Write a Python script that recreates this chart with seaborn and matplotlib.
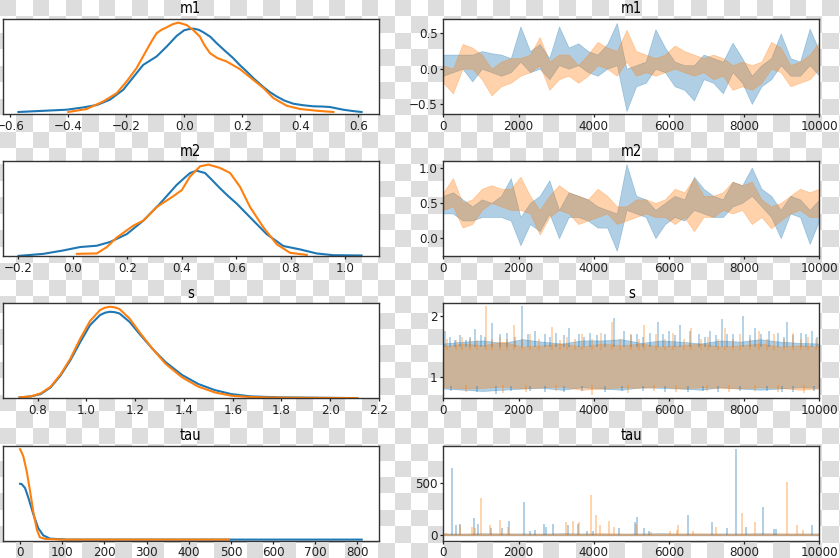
import numpy as np
import matplotlib
matplotlib.use("Agg")
import matplotlib.pyplot as plt
from matplotlib.colors import ListedColormap
import seaborn as sns

# ---------------- left column: posterior densities (relative density) ----------------
m1_kde_x_c0 = [-0.571, -0.50, -0.405, -0.35, -0.301, -0.256, -0.210, -0.175, -0.141, -0.095, -0.060, -0.026,
               0.0, 0.014, 0.031, 0.05, 0.066, 0.09, 0.112, 0.14, 0.169, 0.19, 0.215, 0.24, 0.273, 0.295,
               0.318, 0.345, 0.376, 0.41, 0.445, 0.475, 0.502, 0.548, 0.58, 0.611]
m1_kde_y_c0 = [2.0, 3.0, 4.3, 6.5, 9.0, 14.3, 24.3, 37.0, 49.3, 57.7, 67.7, 78.3,
               84.0, 85.0, 85.7, 84.5, 82.0, 77.5, 71.0, 63.5, 56.0, 49.5, 42.7, 35.5, 27.0, 22.0,
               17.7, 13.5, 10.3, 8.8, 7.7, 7.5, 7.0, 4.3, 3.0, 2.0]
m1_kde_x_c1 = [-0.399, -0.336, -0.278, -0.232, -0.198, -0.164, -0.129, -0.110, -0.095, -0.078, -0.060, -0.040,
               -0.020, 0.008, 0.030, 0.054, 0.070, 0.089, 0.115, 0.146, 0.192, 0.238, 0.273, 0.307, 0.353,
               0.399, 0.456, 0.514]
m1_kde_y_c1 = [2.0, 5.0, 12.7, 21.0, 32.7, 46.0, 64.3, 74.0, 81.0, 84.5, 87.0, 90.0,
               91.7, 89.3, 84.5, 77.7, 69.0, 61.0, 56.0, 52.7, 45.0, 34.3, 26.0, 16.0, 8.3,
               5.0, 3.3, 2.0]

m2_kde_x_c0 = [-0.199, -0.108, -0.034, 0.027, 0.088, 0.137, 0.198, 0.259, 0.320, 0.381, 0.410, 0.430, 0.454,
               0.485, 0.510, 0.540, 0.570, 0.601, 0.662, 0.711, 0.772, 0.833, 0.894, 0.955, 1.059]
m2_kde_y_c0 = [0.3, 2.3, 5.7, 9.0, 10.3, 14.0, 21.7, 35.0, 51.7, 70.0, 77.0, 81.7, 84.0,
               81.7, 75.0, 66.7, 59.0, 51.7, 35.0, 21.7, 10.0, 6.7, 2.7, 1.0, 0.7]
m2_kde_x_c1 = [0.015, 0.088, 0.125, 0.161, 0.222, 0.259, 0.308, 0.369, 0.400, 0.430, 0.467, 0.497,
               0.540, 0.577, 0.613, 0.650, 0.699, 0.748, 0.797, 0.858]
m2_kde_y_c1 = [2.3, 2.7, 9.0, 18.3, 30.0, 35.0, 48.3, 59.0, 65.0, 78.3, 88.3, 90.0,
               86.7, 81.7, 68.3, 48.3, 28.3, 11.7, 3.3, 1.3]

s_kde_x = [0.726, 0.773, 0.813, 0.854, 0.894, 0.934, 0.975, 1.015, 1.056, 1.076, 1.096, 1.116, 1.136, 1.177,
           1.217, 1.271, 1.325, 1.392, 1.459, 1.526, 1.594, 1.674, 1.795, 2.111]
s_kde_y_c0 = [1.0, 2.0, 4.3, 11.0, 22.7, 37.7, 56.0, 72.7, 82.7, 85.0, 86.0, 85.6, 84.3, 76.0,
              64.3, 49.3, 36.0, 23.3, 14.3, 8.3, 4.3, 2.0, 1.0, 0.3]
s_kde_y_c1 = [1.0, 2.0, 5.0, 11.7, 23.7, 39.3, 59.3, 76.7, 87.7, 90.0, 91.0, 90.4, 88.7, 79.3,
              66.0, 49.3, 34.3, 21.0, 11.7, 6.0, 2.7, 1.3, 0.7, 0.3]

tau_kde_x_c0 = [0, 4, 12, 20, 32, 43, 55, 71, 111, 810]
tau_kde_y_c0 = [57.0, 56.7, 52.7, 42.7, 26.0, 12.7, 5.3, 2.0, 1.0, 1.0]
tau_kde_x_c1 = [0, 2, 8, 16, 24, 32, 40, 47, 59, 100, 495]
tau_kde_y_c1 = [91.7, 90.3, 84.3, 69.3, 49.3, 27.7, 11.0, 3.3, 1.7, 1.0, 1.0]

# ---------------- right column: sample traces (min/max per 250-iteration block) ----------------
m1_lo_c0 = [-0.10, -0.05, 0.00, -0.18, 0.00, -0.05, -0.10, -0.05, 0.10, -0.05, 0.00, -0.15, 0.05, 0.00,
            0.05, -0.05, -0.10, 0.00, 0.05, -0.60, -0.25, -0.20, 0.00, -0.05, -0.25, -0.30, -0.45, -0.15,
            -0.20, -0.35, -0.05, -0.20, -0.50, -0.25, -0.15, 0.05, -0.10, -0.10, 0.05, -0.10]
m1_hi_c0 = [0.20, 0.20, 0.20, 0.20, 0.25, 0.22, 0.20, 0.15, 0.60, 0.25, 0.35, 0.15, 0.60, 0.30,
            0.36, 0.25, 0.20, 0.35, 0.65, 0.00, 0.05, 0.10, 0.56, 0.30, 0.10, 0.05, 0.05, 0.20,
            0.15, 0.10, 0.37, 0.15, -0.10, 0.05, 0.15, 0.50, 0.15, 0.10, 0.57, 0.25]
m1_lo_c1 = [-0.20, -0.35, 0.00, 0.00, -0.15, -0.38, -0.25, -0.20, -0.10, -0.05, 0.05, -0.30, -0.15, -0.10,
            -0.20, -0.10, 0.05, 0.00, -0.10, 0.10, -0.10, -0.05, -0.10, -0.05, 0.00, -0.05, -0.10, -0.05,
            -0.15, -0.10, -0.30, -0.25, -0.30, -0.20, 0.00, -0.05, -0.25, -0.20, -0.15, 0.00]
m1_hi_c1 = [0.05, 0.00, 0.35, 0.30, 0.20, 0.00, 0.10, 0.15, 0.15, 0.20, 0.45, 0.10, 0.20, 0.20,
            0.05, 0.20, 0.38, 0.30, 0.25, 0.55, 0.25, 0.20, 0.15, 0.20, 0.33, 0.25, 0.20, 0.15,
            0.20, 0.15, 0.05, 0.10, 0.05, 0.10, 0.38, 0.30, 0.05, 0.10, 0.20, 0.38]

m2_lo_c0 = [0.35, 0.35, 0.25, 0.25, 0.30, 0.30, 0.30, 0.25, -0.10, 0.20, 0.10, 0.35, 0.00, 0.30,
            0.30, 0.25, 0.15, 0.15, -0.18, 0.40, 0.35, 0.30, 0.00, 0.20, 0.30, 0.25, 0.40, 0.35,
            0.30, 0.30, 0.45, 0.50, 0.60, 0.45, 0.30, 0.00, 0.35, 0.30, -0.08, 0.25]
m2_hi_c0 = [0.60, 0.65, 0.55, 0.45, 0.55, 0.50, 0.60, 0.85, 0.30, 0.50, 0.60, 0.82, 0.40, 0.65,
            0.60, 0.55, 0.45, 0.40, 0.35, 1.05, 0.60, 0.55, 0.40, 0.50, 0.60, 0.55, 0.87, 0.70,
            0.60, 0.55, 0.80, 0.75, 1.00, 0.70, 0.60, 0.40, 0.60, 0.55, 0.40, 0.55]
m2_lo_c1 = [0.40, 0.45, 0.15, 0.20, 0.40, 0.50, 0.45, 0.40, 0.40, 0.35, 0.05, 0.30, 0.40, 0.35,
            0.20, 0.25, 0.30, 0.35, 0.20, 0.25, 0.30, 0.35, 0.30, 0.30, 0.20, 0.30, 0.10, 0.30,
            0.30, 0.40, 0.35, 0.40, 0.20, 0.30, 0.14, 0.25, 0.35, 0.40, 0.30, 0.30]
m2_hi_c1 = [0.65, 0.85, 0.50, 0.55, 0.70, 0.75, 0.70, 0.70, 0.87, 0.60, 0.40, 0.60, 0.75, 0.65,
            0.60, 0.55, 0.70, 0.60, 0.45, 0.45, 0.55, 0.55, 0.50, 0.55, 0.70, 0.65, 0.85, 0.60,
            0.60, 0.65, 0.80, 0.75, 0.80, 0.55, 0.45, 0.50, 0.60, 0.70, 0.65, 0.70]

# s: core band per 500-iteration block, plus excursions above / below the band
s_lo_c0 = [0.82, 0.80, 0.78, 0.80, 0.82, 0.83, 0.80, 0.84, 0.82, 0.80, 0.84, 0.83, 0.82, 0.80, 0.84, 0.82, 0.80, 0.82, 0.84, 0.83]
s_hi_c0 = [1.55, 1.58, 1.60, 1.56, 1.62, 1.58, 1.55, 1.60, 1.60, 1.62, 1.56, 1.60, 1.58, 1.55, 1.60, 1.58, 1.62, 1.58, 1.56, 1.55]
s_lo_c1 = [0.84, 0.82, 0.83, 0.85, 0.82, 0.84, 0.85, 0.80, 0.82, 0.84, 0.83, 0.85, 0.82, 0.84, 0.83, 0.82, 0.84, 0.83, 0.80, 0.82]
s_hi_c1 = [1.50, 1.55, 1.52, 1.58, 1.50, 1.52, 1.55, 1.50, 1.55, 1.52, 1.55, 1.50, 1.52, 1.55, 1.50, 1.52, 1.55, 1.50, 1.52, 1.50]
s_up_it_c0 = [50, 180, 300, 450, 600, 720, 850, 1000, 1100, 1300, 1500, 1700, 1900, 2080, 2250, 2450, 2700, 2850,
              3000, 3200, 3350, 3600, 3750, 3900, 4100, 4300, 4550, 4800, 5000, 5150, 5300, 5500, 5700, 5850,
              6000, 6150, 6300, 6550, 6800, 6950, 7100, 7250, 7400, 7550, 7700, 7970, 8150, 8300, 8450, 8650,
              8900, 9050, 9150, 9300, 9500, 9650, 9800, 9950]
s_up_val_c0 = [1.75, 1.65, 1.60, 1.68, 1.60, 1.66, 1.79, 1.68, 1.65, 1.88, 1.70, 1.72, 1.66, 2.16, 1.70, 1.75, 1.70, 1.66,
               1.72, 1.68, 1.80, 1.70, 1.66, 1.72, 1.68, 1.70, 1.97, 1.75, 1.68, 1.70, 1.66, 1.72, 1.90, 1.70,
               1.75, 1.68, 1.85, 1.75, 1.70, 1.66, 1.75, 1.68, 1.95, 1.70, 1.70, 2.00, 1.68, 1.80, 1.70, 1.75,
               1.72, 1.66, 1.90, 1.68, 1.72, 1.70, 1.75, 1.66]
s_dn_it_c0 = [200, 900, 1400, 1800, 2300, 2700, 3200, 3700, 4300, 4750, 5300, 5900, 6500, 6900, 7300, 7900,
              8600, 9000, 9300, 9850]
s_dn_val_c0 = [0.78, 0.76, 0.73, 0.78, 0.78, 0.77, 0.77, 0.78, 0.76, 0.78, 0.78, 0.77, 0.77, 0.78, 0.76, 0.78,
               0.78, 0.77, 0.77, 0.78]
s_up_it_c1 = [100, 350, 500, 700, 900, 1130, 1300, 1500, 1700, 1890, 2100, 2300, 2550, 2900, 3100, 3300, 3500,
              3700, 3950, 4200, 4480, 4700, 5000, 5200, 5350, 5650, 5900, 6100, 6400, 6600, 6850, 7050, 7300,
              7500, 7700, 7900, 8150, 8400, 8600, 8800, 9050, 9300, 9500, 9700, 9900]
s_up_val_c1 = [1.62, 1.60, 1.65, 1.62, 1.60, 2.15, 1.62, 1.65, 1.62, 1.85, 1.62, 1.70, 1.62, 1.82, 1.60, 1.65, 1.62,
               1.70, 1.62, 1.72, 1.90, 1.62, 1.70, 1.62, 1.85, 1.70, 1.62, 1.72, 1.62, 1.80, 1.62, 1.65, 1.62,
               1.80, 1.62, 1.70, 1.62, 1.75, 1.62, 1.70, 1.62, 1.72, 1.62, 1.65, 1.62]
s_dn_it_c1 = [600, 1600, 2200, 3000, 3950, 4900, 5600, 6200, 7000, 7600, 8300, 8900, 9600]
s_dn_val_c1 = [0.76, 0.75, 0.77, 0.78, 0.72, 0.75, 0.78, 0.76, 0.78, 0.77, 0.78, 0.76, 0.75]

# tau: near-zero band (per 500-iteration block) plus spikes
tau_hi_c0 = [18, 15, 20, 16, 18, 15, 20, 18, 16, 15, 18, 20, 16, 15, 18, 16, 20, 15, 18, 16]
tau_hi_c1 = [15, 18, 16, 20, 15, 18, 16, 15, 20, 18, 15, 16, 18, 20, 15, 18, 16, 20, 15, 18]
tau_spike_it_c0 = [222, 337, 443, 824, 931, 1268, 1551, 1755, 2154, 2305, 2438, 2677, 2730, 2926, 3324, 3590,
                   3812, 3989, 4681, 5098, 5142, 5337, 5479, 6516, 7137, 7553, 7775, 8050, 8511, 8794, 8848, 9796]
tau_spike_val_c0 = [643, 96, 108, 166, 108, 70, 70, 134, 318, 45, 54, 108, 76, 108, 96, 108,
                    45, 45, 70, 127, 172, 70, 38, 197, 127, 70, 828, 76, 268, 64, 64, 96]
tau_spike_it_c1 = [71, 443, 754, 842, 993, 1241, 1507, 1729, 3262, 3440, 3617, 3918, 4060, 4167, 4406, 4539,
                   5115, 5514, 6028, 6206, 6250, 6649, 7252, 7952, 8289, 9131, 9397, 9574]
tau_spike_val_c1 = [22, 102, 76, 70, 357, 102, 150, 76, 127, 140, 127, 382, 197, 102, 140, 76,
                    108, 32, 45, 54, 102, 38, 76, 213, 127, 510, 102, 54]

titles = ["m1", "m2", "s", "tau"]
C0, C1 = "#1f77b4", "#ff7f0e"
N_ITER = 10000

# ---------------- figure ----------------
plt.rcParams["font.family"] = ["DejaVu Sans"]
plt.rcParams["font.stretch"] = "condensed"
plt.rcParams["font.size"] = 9
fig = plt.figure(figsize=(8.4, 5.58), dpi=100)

# transparent-background checkerboard
cell = 16.45
ncol, nrow = 52, 35
pattern = (np.add.outer(np.arange(nrow), np.arange(ncol)) % 2 == 0).astype(int)
bg = fig.add_axes([0, 0, 1, 1], zorder=-10)
bg.imshow(pattern, cmap=ListedColormap(["white", "#dddddd"]), interpolation="nearest",
          extent=(0, ncol * cell, nrow * cell, 0), aspect="auto")
bg.set_xlim(0, 840)
bg.set_ylim(558, 0)
bg.axis("off")

tops_px = [19, 161.2, 303.4, 445.6]
h_px = 95.0
left_x0, left_w = 2.7 / 840, 376.3 / 840
right_x0, right_w = 443.3 / 840, 376.0 / 840

kde_sets = [
    ((m1_kde_x_c0, m1_kde_y_c0), (m1_kde_x_c1, m1_kde_y_c1)),
    ((m2_kde_x_c0, m2_kde_y_c0), (m2_kde_x_c1, m2_kde_y_c1)),
    ((s_kde_x, s_kde_y_c0), (s_kde_x, s_kde_y_c1)),
    ((tau_kde_x_c0, tau_kde_y_c0), (tau_kde_x_c1, tau_kde_y_c1)),
]
left_xlims = [(-0.625, 0.671), (-0.257, 1.123), (0.657, 2.2), (-41, 851)]
left_ylims = [(0, 95.3), (0, 93.3), (0, 94.3), (0, 95.3)]
left_xticks = [np.round(np.arange(-0.6, 0.61, 0.2), 1), np.round(np.arange(-0.2, 1.01, 0.2), 1),
               np.round(np.arange(0.8, 2.21, 0.2), 1), np.arange(0, 801, 100)]

right_ylims = [(-0.643, 0.705), (-0.255, 1.09), (0.66, 2.20), (-51, 860)]
right_yticks = [[-0.5, 0.0, 0.5], [0.0, 0.5, 1.0], [1, 2], [0, 500]]

axes_left, axes_right = [], []
for i in range(4):
    bottom = 1 - (tops_px[i] + h_px) / 558
    axL = fig.add_axes([left_x0, bottom, left_w, h_px / 558])
    axR = fig.add_axes([right_x0, bottom, right_w, h_px / 558])
    axes_left.append(axL)
    axes_right.append(axR)

    (x0, y0), (x1, y1) = kde_sets[i]
    sns.lineplot(x=x0, y=y0, ax=axL, color=C0, linewidth=1.5, sort=False, estimator=None)
    sns.lineplot(x=x1, y=y1, ax=axL, color=C1, linewidth=1.5, sort=False, estimator=None)
    axL.set_xlim(*left_xlims[i])
    axL.set_ylim(*left_ylims[i])
    axL.set_yticks([])
    axL.set_xticks(left_xticks[i])
    if i < 3:
        axL.set_xticklabels([f"{v:.1f}".replace("-", "\u2212") for v in left_xticks[i]])
    axL.set_title(titles[i], fontsize=10.5, pad=4)
    axL.set_xlabel("")
    axL.set_ylabel("")


def band(ax, lo, hi, color):
    it = np.linspace(0, N_ITER, len(lo))
    ax.fill_between(it, lo, hi, color=color, alpha=0.35, linewidth=0.5, edgecolor=color)


# m1, m2
band(axes_right[0], m1_lo_c0, m1_hi_c0, C0)
band(axes_right[0], m1_lo_c1, m1_hi_c1, C1)
band(axes_right[1], m2_lo_c0, m2_hi_c0, C0)
band(axes_right[1], m2_lo_c1, m2_hi_c1, C1)
# s
axS = axes_right[2]
band(axS, s_lo_c0, s_hi_c0, C0)
band(axS, s_lo_c1, s_hi_c1, C1)
axS.vlines(s_up_it_c0, 1.50, s_up_val_c0, color=C0, alpha=0.35, linewidth=1.3)
axS.vlines(s_dn_it_c0, s_dn_val_c0, 0.86, color=C0, alpha=0.35, linewidth=1.3)
axS.vlines(s_up_it_c1, 1.45, s_up_val_c1, color=C1, alpha=0.35, linewidth=1.3)
axS.vlines(s_dn_it_c1, s_dn_val_c1, 0.88, color=C1, alpha=0.35, linewidth=1.3)
# tau
axT = axes_right[3]
band(axT, [0] * len(tau_hi_c0), tau_hi_c0, C0)
band(axT, [0] * len(tau_hi_c1), tau_hi_c1, C1)
axT.vlines(tau_spike_it_c0, 0, tau_spike_val_c0, color=C0, alpha=0.35, linewidth=1.4)
axT.vlines(tau_spike_it_c1, 0, tau_spike_val_c1, color=C1, alpha=0.35, linewidth=1.4)

for i, axR in enumerate(axes_right):
    axR.set_xlim(0, N_ITER)
    axR.set_ylim(*right_ylims[i])
    axR.set_xticks(np.arange(0, 10001, 2000))
    axR.set_yticks(right_yticks[i])
    if i == 0 or i == 1:
        axR.set_yticklabels([f"{v:.1f}".replace("-", "\u2212") for v in right_yticks[i]])
    axR.set_title(titles[i], fontsize=10.5, pad=4)

for ax in axes_left + axes_right:
    ax.set_facecolor("white")
    for sp in ax.spines.values():
        sp.set_color("#333333")
        sp.set_linewidth(1.0)
    ax.tick_params(labelsize=9.5, length=2.5, width=0.9, pad=1.5, colors="#222222")

fig.savefig("out.png", dpi=100)
